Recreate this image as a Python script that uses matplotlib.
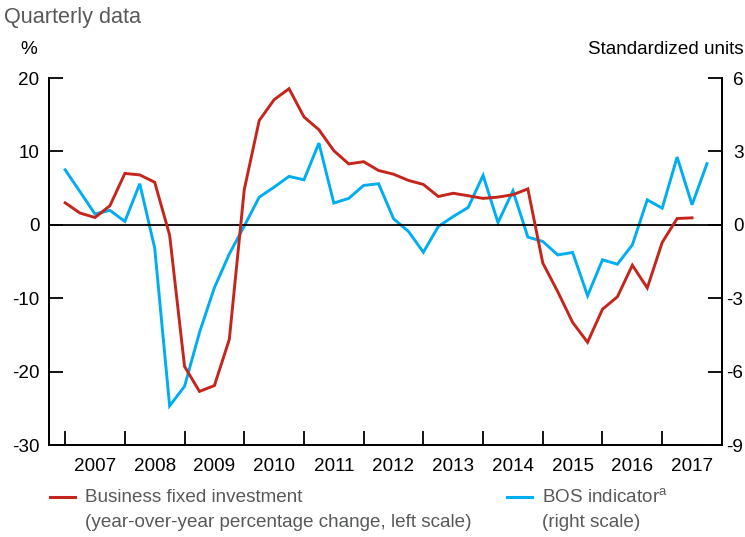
import numpy as np
import matplotlib.pyplot as plt

plt.rcParams['font.family'] = ['Liberation Sans', 'DejaVu Sans']
plt.rcParams['axes.unicode_minus'] = False

# quarterly data, 2007Q1 onwards
bfi = [3.0, 1.6, 1.0, 2.6, 7.0, 6.8, 5.8, -1.4,
       -19.3, -22.7, -21.9, -15.6, 4.8, 14.2, 17.05, 18.55,
       14.7, 12.96, 10.1, 8.3, 8.6, 7.4, 6.9, 6.05,
       5.5, 3.86, 4.3, 3.96, 3.6, 3.78, 4.1, 4.9,
       -5.2, -9.1, -13.3, -16.0, -11.5, -9.8, -5.5, -8.6,
       -2.4, 0.86, 0.95]
bos = [2.25, 1.35, 0.44, 0.59, 0.14, 1.68, -0.95, -7.4,
       -6.6, -4.4, -2.57, -1.19, -0.05, 1.13, 1.54, 1.98,
       1.84, 3.34, 0.89, 1.08, 1.61, 1.68, 0.25, -0.27,
       -1.12, -0.07, 0.34, 0.71, 2.02, 0.09, 1.39, -0.5,
       -0.68, -1.23, -1.13, -2.9, -1.43, -1.61, -0.82, 1.02,
       0.68, 2.77, 0.82, 2.5]
years = list(range(2007, 2018))

red = '#c4261d'
blue = '#00aeef'
grey = '#58595b'
fs = 13.6

t_bfi = 2007 + 0.25 * np.arange(len(bfi))
t_bos = 2007 + 0.25 * np.arange(len(bos))

fig = plt.figure(figsize=(7.45, 5.37), dpi=100)
ax = fig.add_axes([0.0658, 0.1713, 0.9032, 0.6834])
ax2 = ax.twinx()

ax.axhline(0, color='black', lw=1.3, zorder=1)
ax.plot(t_bfi, bfi, color=red, lw=2.1, zorder=3, solid_joinstyle='miter')
ax2.plot(t_bos, bos, color=blue, lw=2.1, zorder=2, solid_joinstyle='miter')
ax.set_zorder(ax2.get_zorder() + 1)
ax.patch.set_visible(False)

ax.set_xlim(2006.73, 2018.0)
ax.set_ylim(-30, 20)
ax2.set_ylim(-9, 6)
ax.set_yticks([-30, -20, -10, 0, 10, 20])
ax2.set_yticks([-9, -6, -3, 0, 3, 6])
ax.set_xticks(years)
ax.set_xticklabels([])
ax.set_xticks([y + 0.5 for y in years], minor=True)
ax.set_xticklabels([str(y) for y in years], minor=True)

for a in (ax, ax2):
    a.spines['top'].set_visible(False)
    for s in a.spines.values():
        s.set_linewidth(1.3)
ax.tick_params(axis='y', direction='in', length=10, width=1.3, labelsize=fs, pad=7)
ax2.tick_params(axis='y', direction='in', length=10, width=1.3, labelsize=fs, pad=15.5)
for lab in ax2.get_yticklabels():
    lab.set_horizontalalignment('right')
ax.tick_params(axis='x', which='major', direction='in', length=10, width=1.3)
ax.tick_params(axis='x', which='minor', length=0, labelsize=fs, pad=9)

fig.text(0.006, 0.967, 'Quarterly data', color=grey, fontsize=15.6, va='center')
fig.text(0.027, 0.908, '%', color='black', fontsize=fs, va='center')
fig.text(0.998, 0.908, 'Standardized units', color='black', fontsize=fs,
         va='center', ha='right')

# legend
fig.add_artist(plt.Line2D([0.067, 0.101], [0.074, 0.074], color=red, lw=2.2))
fig.text(0.114, 0.074, 'Business fixed investment', color=grey, fontsize=fs, va='center')
fig.text(0.114, 0.027, '(year-over-year percentage change, left scale)', color=grey,
         fontsize=fs, va='center')
fig.add_artist(plt.Line2D([0.681, 0.714], [0.074, 0.074], color=blue, lw=2.2))
fig.text(0.727, 0.074, 'BOS indicator$^{\\mathregular{a}}$', color=grey, fontsize=fs, va='center')
fig.text(0.727, 0.027, '(right scale)', color=grey, fontsize=fs, va='center')

fig.savefig('out.png', dpi=100)
